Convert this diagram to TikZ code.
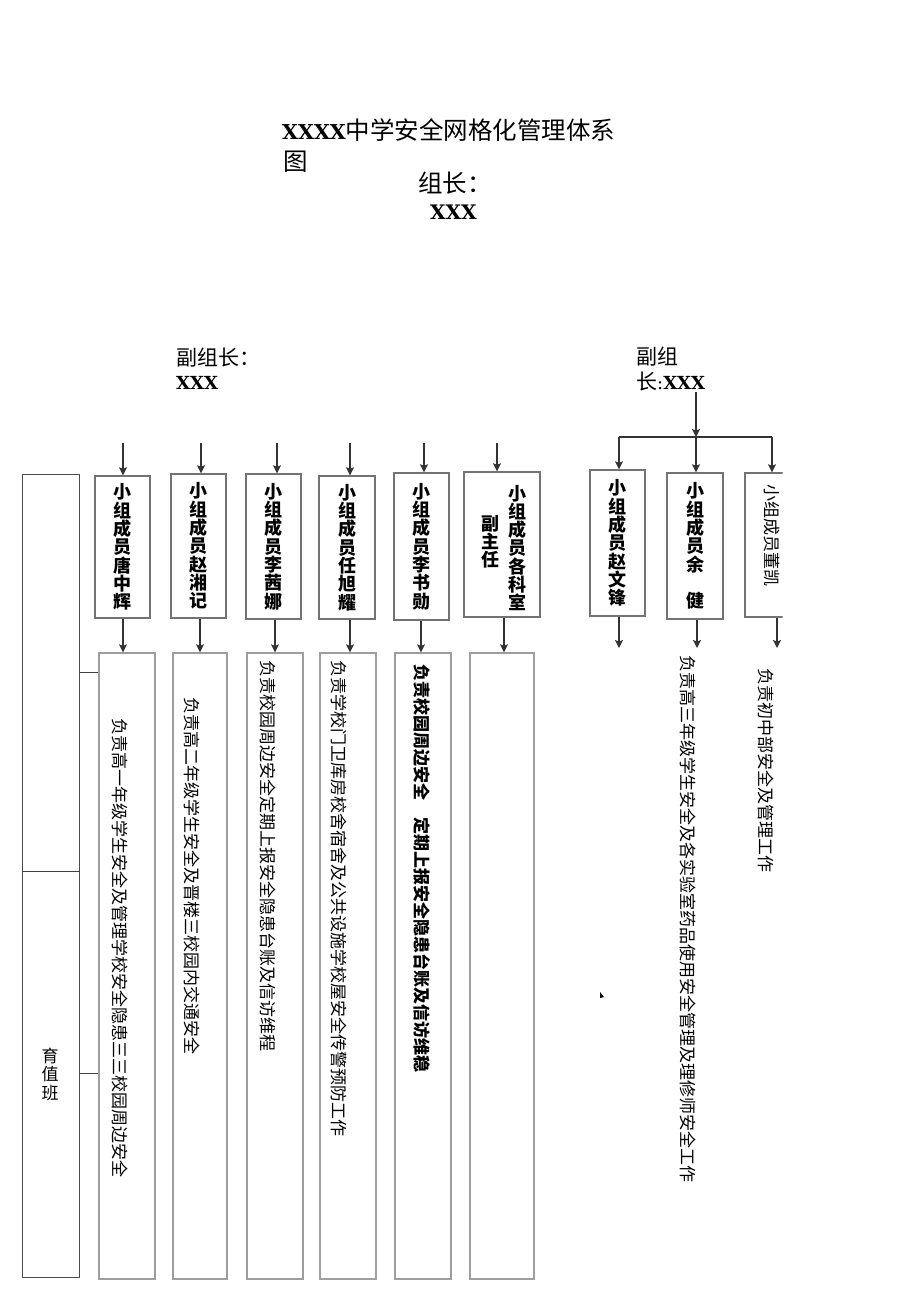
\documentclass[tikz,border=0pt]{standalone}
\usepackage{fontspec}
\setmainfont{Liberation Serif}
\newfontfamily\cjk{Noto Sans CJK SC}
\newfontfamily\xfont{DejaVu Serif}
\usetikzlibrary{arrows.meta}
\begin{document}
\begin{tikzpicture}[x=1pt,y=-1pt,
 memberbox/.style={draw=black!55, line width=1.4pt, inner sep=0pt},
 dutybox/.style={draw=black!38, line width=1.3pt, inner sep=0pt},
 arr/.style={draw=black!80, line width=1.3pt, -{Stealth[length=8pt,width=8pt,inset=1.5pt]}},
 plainline/.style={draw=black!75, line width=1pt},
 stack/.style={font=\cjk\bfseries\fontsize{18}{18.3}\selectfont, align=center, inner sep=0pt},
 duty/.style={font=\cjk\fontsize{17}{17}\selectfont, rotate=-90, anchor=west, inner sep=0pt},
 head/.style={inner sep=0pt, anchor=base west},
]
\useasboundingbox[fill=white] (0,0) rectangle (920,1301);

% ---------- title ----------
\node[head] (title) at (282,139) {{\xfont\bfseries\fontsize{20.5}{20.5}\selectfont XXXX}{\cjk\fontsize{24.5}{24.5}\selectfont 中学安全网格化管理体系}};
\node[head, font=\cjk\fontsize{24.5}{24.5}\selectfont] (title2) at (283,170) {图};
\node[head, font=\cjk\fontsize{24.5}{24.5}\selectfont] (leader) at (418,192) {组长：};
\node[head, font=\xfont\bfseries\fontsize{20}{20}\selectfont] (leadername) at (430,219) {XXX};

% ---------- deputies ----------
\node[head, font=\cjk\fontsize{21}{21}\selectfont] (dl) at (176,365) {副组长：};
\node[head, font=\xfont\bfseries\fontsize{18}{18}\selectfont] (dlname) at (176,389) {XXX};
\node[head, font=\cjk\fontsize{21}{21}\selectfont] (dr) at (636,364) {副组};
\node[head] (drname) at (636,389) {{\cjk\fontsize{21}{21}\selectfont 长}{\xfont\fontsize{18}{18}\selectfont :\bfseries XXX}};

% ---------- left group: member boxes ----------
\node[memberbox, stack, minimum width=55, minimum height=142] (m1) at (122.5,547) {小\\组\\成\\员\\唐\\中\\辉};
\node[memberbox, stack, minimum width=55, minimum height=144] (m2) at (198.5,546) {小\\组\\成\\员\\赵\\湘\\记};
\node[memberbox, stack, minimum width=55, minimum height=145] (m3) at (273.5,546.5) {小\\组\\成\\员\\李\\茜\\娜};
\node[memberbox, stack, minimum width=56, minimum height=143] (m4) at (347,547.5) {小\\组\\成\\员\\任\\旭\\耀};
\node[memberbox, stack, minimum width=55, minimum height=147] (m5) at (421.5,546.5) {小\\组\\成\\员\\李\\书\\勋};
\node[memberbox, minimum width=76, minimum height=145] (m6) at (502,544.5) {};
\node[stack] (m6a) at (517,548) {小\\组\\成\\员\\各\\科\\室};
\node[stack] (m6b) at (490,542) {副\\主\\任};

\coordinate (t1) at (123,443);
\coordinate (t2) at (201,443);
\coordinate (t3) at (277,443);
\coordinate (t4) at (350,443);
\coordinate (t5) at (424,443);
\coordinate (t6) at (497,443);
\draw[arr] (t1) -- (t1 |- m1.north);
\draw[arr] (t2) -- (t2 |- m2.north);
\draw[arr] (t3) -- (t3 |- m3.north);
\draw[arr] (t4) -- (t4 |- m4.north);
\draw[arr] (t5) -- (t5 |- m5.north);
\draw[arr] (t6) -- (t6 |- m6.north);

% ---------- left group: duty boxes ----------
\node[dutybox, minimum width=56, minimum height=626] (d1) at (127,966) {};
\node[dutybox, minimum width=54, minimum height=626] (d2) at (200,966) {};
\node[dutybox, minimum width=56, minimum height=626] (d3) at (275,966) {};
\node[dutybox, minimum width=56, minimum height=626] (d4) at (348,966) {};
\node[dutybox, minimum width=56, minimum height=626] (d5) at (423,966) {};
\node[dutybox, minimum width=64, minimum height=626] (d6) at (502,966) {};

\coordinate (b1) at (123,0);
\coordinate (b2) at (200,0);
\coordinate (b3) at (275,0);
\coordinate (b4) at (350,0);
\coordinate (b5) at (421,0);
\coordinate (b6) at (504,0);
\draw[arr] (b1 |- m1.south) -- (b1 |- d1.north);
\draw[arr] (b2 |- m2.south) -- (b2 |- d2.north);
\draw[arr] (b3 |- m3.south) -- (b3 |- d3.north);
\draw[arr] (b4 |- m4.south) -- (b4 |- d4.north);
\draw[arr] (b5 |- m5.south) -- (b5 |- d5.north);
\draw[arr] (b6 |- m6.south) -- (b6 |- d6.north);

\node[duty] (d1t) at (120,718) {负责高一年级学生安全及管理学校安全隐患三三校园周边安全};
\node[duty] (d2t) at (192,697) {负责高二年级学生安全及晋楼三校园内交通安全};
\node[duty] (d3t) at (268,660) {负责校园周边安全定期上报安全隐患台账及信访维程};
\node[duty] (d4t) at (339,660) {负责学校门卫库房校舍宿舍及公共设施学校屋安全传警预防工作};
\node[duty, font=\cjk\bfseries\fontsize{17}{17}\selectfont] (d5t) at (422,664) {负责校园周边安全　定期上报安全隐患台账及信访维稳};

% ---------- left side box ----------
\node[draw=black!70, line width=1pt, minimum width=57, minimum height=803, inner sep=0pt] (L) at (50.5,875.5) {};
\coordinate (h) at (0,871);
\draw[plainline] (L.west |- h) -- (L.east |- h);
\node[font=\cjk\fontsize{17}{18.5}\selectfont, align=center, inner sep=0pt] (Lt) at (50,1074) {育\\值\\班};
\coordinate (c1) at (0,672);
\coordinate (c2) at (0,1073);
\draw[plainline] (L.east |- c1) -- (d1.west |- c1);
\draw[plainline] (L.east |- c2) -- (d1.west |- c2);

% ---------- right group ----------
\coordinate (rtop) at (696,392);
\coordinate (j1) at (619,437);
\coordinate (j2) at (696,437);
\coordinate (j3) at (772,437);
\draw[draw=black!80, line width=1.3pt] (j1) -- (j3);
\draw[arr] (rtop) -- (j2);

\node[memberbox, stack, minimum width=55, minimum height=146] (r1) at (617.5,543) {小\\组\\成\\员\\赵\\文\\锋};
\node[memberbox, stack, minimum width=56, minimum height=146] (r2) at (695,546) {小\\组\\成\\员\\余\\\mbox{}\\健};
\begin{scope}
\clip (0,0) rectangle (782.5,1301);
\node[memberbox, minimum width=74, minimum height=144] (r3) at (782,545) {};
\end{scope}
\node[font=\cjk\fontsize{17}{17}\selectfont, rotate=-90, inner sep=0pt] (r3t) at (772,535) {小组成员董凯};

\draw[arr] (j1) -- (j1 |- r1.north);
\draw[arr] (j2) -- (j2 |- r2.north);
\draw[arr] (j3) -- (j3 |- r3.north);

\coordinate (e1) at (619,648);
\coordinate (e2) at (697,648);
\coordinate (e3) at (777,648);
\draw[arr] (e1 |- r1.south) -- (e1);
\draw[arr] (e2 |- r2.south) -- (e2);
\draw[arr] (e3 |- r3.south) -- (e3);

\node[duty] (r2t) at (688,655) {负责高三年级学生安全及各实验室药品使用安全管理及理修师安全工作};
\node[duty] (r3d) at (766,668) {负责初中部安全及管理工作};

\fill[black] (600,992) -- (604,997) -- (600,998) -- cycle;
\end{tikzpicture}
\end{document}
